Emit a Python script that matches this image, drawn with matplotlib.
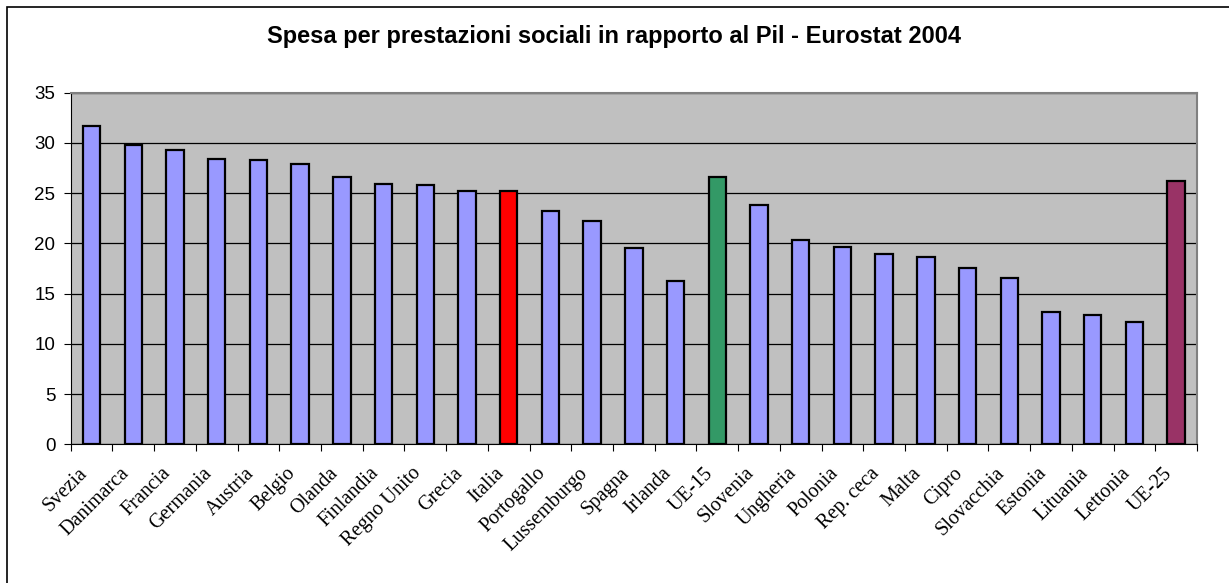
import matplotlib.pyplot as plt
from matplotlib.patches import Rectangle
from matplotlib.transforms import ScaledTranslation
import numpy as np

paesi = ["Svezia", "Danimarca", "Francia", "Germania", "Austria", "Belgio",
         "Olanda", "Finlandia", "Regno Unito", "Grecia", "Italia", "Portogallo",
         "Lussemburgo", "Spagna", "Irlanda", "UE-15", "Slovenia", "Ungheria",
         "Polonia", "Rep. ceca", "Malta", "Cipro", "Slovacchia", "Estonia",
         "Lituania", "Lettonia", "UE-25"]
spesa = [31.7, 29.8, 29.3, 28.4, 28.3, 27.9, 26.6, 25.9, 25.8, 25.2, 25.2, 23.2,
         22.2, 19.5, 16.3, 26.6, 23.8, 20.3, 19.6, 18.9, 18.6, 17.5, 16.6, 13.2,
         12.9, 12.2, 26.2]

# colori speciali per Italia e medie UE
evidenziati = {"Italia": "#FF0000", "UE-15": "#339966", "UE-25": "#993366"}
colori = [evidenziati.get(p, "#9999FF") for p in paesi]

fig = plt.figure(figsize=(12.29, 5.83), dpi=100)
ax = fig.add_axes([70.7 / 1229, 1 - 444.3 / 583, (1197 - 70.7) / 1229, (444.3 - 92.7) / 583])

x = np.arange(len(paesi))
ax.set_facecolor("#C0C0C0")
ax.grid(axis="y", color="black", lw=0.9)
ax.set_axisbelow(True)
ax.bar(x, spesa, width=0.42, color=colori, edgecolor="black", lw=1.6, zorder=3)

ax.set_xlim(-0.5, len(paesi) - 0.5)
ax.set_ylim(0, 35)
ax.set_yticks(range(0, 36, 5))
ax.tick_params(axis="y", labelsize=13.5, length=5, direction="out", pad=6)
for lab in ax.get_yticklabels():
    lab.set_family("Liberation Sans")

# tacche tra le categorie, etichette al centro
ax.set_xticks(np.arange(-0.5, len(paesi), 1.0))
ax.set_xticklabels([])
ax.set_xticks(x, minor=True)
ax.set_xticklabels(paesi, minor=True, rotation=45, ha="right", rotation_mode="anchor",
                   family="Liberation Serif", fontsize=14.5)
ax.tick_params(axis="x", which="minor", length=0, pad=14)
ax.tick_params(axis="x", which="major", length=5, direction="out")
spostamento = ScaledTranslation(-14 / 100, 0, fig.dpi_scale_trans)
for lab in ax.get_xticklabels(minor=True):
    lab.set_transform(lab.get_transform() + spostamento)

for side in ["top", "right"]:
    ax.spines[side].set_color("#808080")
    ax.spines[side].set_linewidth(1.5)
ax.spines["left"].set_color("black")
ax.spines["bottom"].set_color("black")

fig.text(614 / 1229, 1 - 37 / 583, "Spesa per prestazioni sociali in rapporto al Pil - Eurostat 2004",
         ha="center", va="center", fontsize=17, fontweight="bold", family="Liberation Sans")

# cornice esterna (lati destro e inferiore fuori immagine)
fig.add_artist(Rectangle((7 / 1229, -0.1), 1.2, 1.1 - 7 / 583,
                         transform=fig.transFigure, fill=False, edgecolor="black", lw=1.2))

fig.savefig("out.png", dpi=100)
